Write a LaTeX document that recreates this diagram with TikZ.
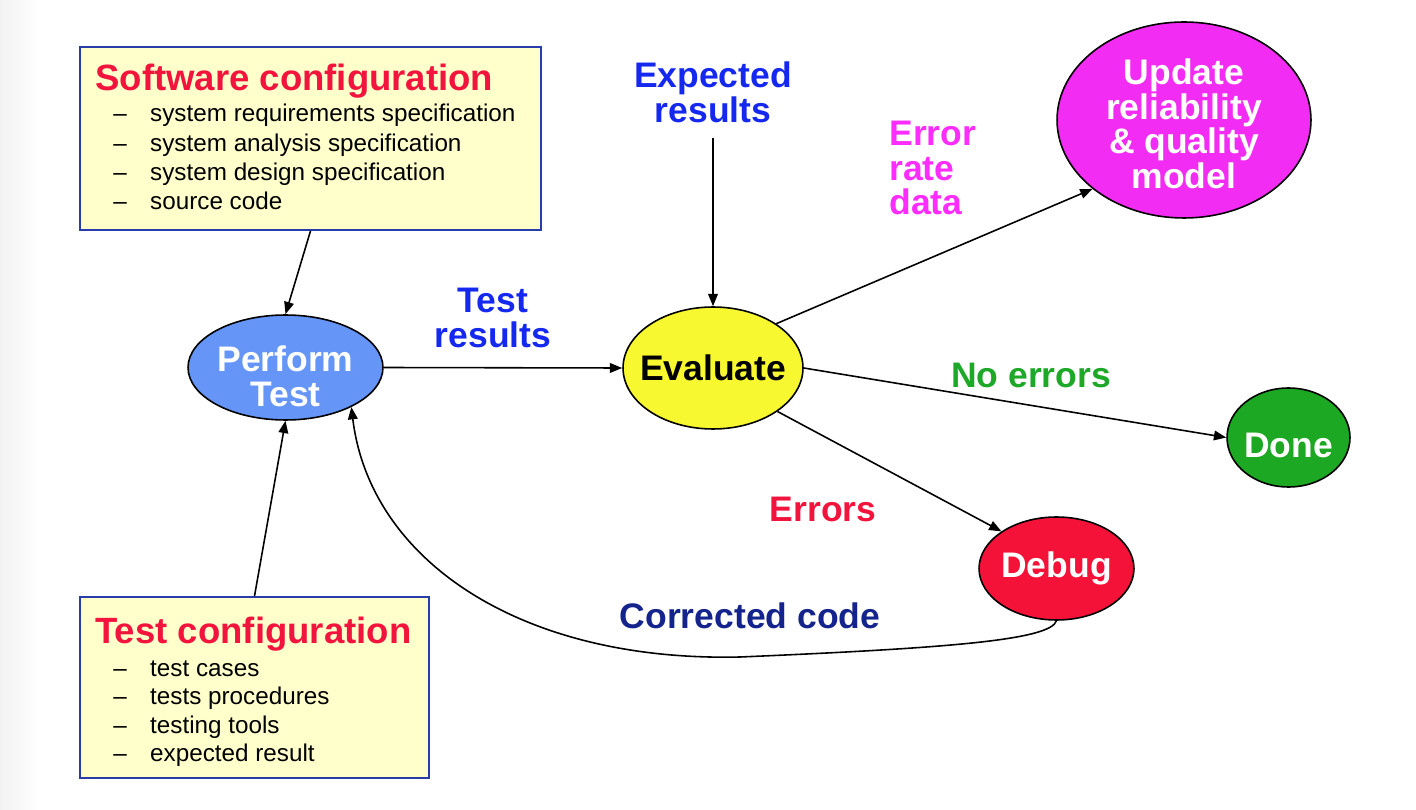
\documentclass[tikz,border=0pt]{standalone}
\usepackage{fontspec}
\setmainfont{Liberation Sans}
\usetikzlibrary{shapes.geometric,arrows.meta}
\definecolor{boxfill}{RGB}{255,255,204}
\definecolor{boxline}{RGB}{40,60,170}
\definecolor{tred}{RGB}{242,20,60}
\definecolor{perfblue}{RGB}{100,149,247}
\definecolor{evalyel}{RGB}{248,248,48}
\definecolor{updmag}{RGB}{243,44,243}
\definecolor{donegreen}{RGB}{28,168,34}
\definecolor{dbgred}{RGB}{245,18,56}
\definecolor{lblblue}{RGB}{20,40,240}
\definecolor{lblmag}{RGB}{255,44,255}
\definecolor{lblgreen}{RGB}{30,168,40}
\definecolor{lblnavy}{RGB}{20,36,140}
\newcommand\itm[1]{\hbox{\hbox to 21pt{\textendash\hss}#1}}
\newcommand\lift[1]{\rule{0pt}{#1}}
\begin{document}
\begin{tikzpicture}[x=0.02cm,y=-0.02cm,
 bigtxt/.style={font=\fontsize{20.2}{19.8}\selectfont\bfseries, align=center, inner sep=0pt},
 cfgbox/.style={draw=boxline, line width=1.1pt, fill=boxfill, rectangle, inner sep=0pt},
 proc/.style={ellipse, draw=black, line width=0.9pt, bigtxt, inner sep=-6pt, text=white},
 arr/.style={-{Triangle[length=7pt,width=5.5pt]}, line width=0.9pt, draw=black},
 cfgtitle/.style={anchor=base west, inner sep=0pt, text=tred, font=\fontsize{20.8}{20}\selectfont\bfseries},
 cfglist/.style={anchor=base west, inner sep=0pt, text=black, font=\fontsize{13.8}{16.6}\selectfont},
]
\useasboundingbox (0,0) rectangle (1416,810);
\shade[left color=black!5, right color=white] (0,0) rectangle (40,810);

% configuration boxes
\node[cfgbox, minimum width=9.22cm, minimum height=3.66cm] (sw) at (310.5,138.5) {};
\node[cfgtitle] (swt) at (95,91) {Software configuration};
\node[cfglist] (swl) at (113,122)
  {\vtop{\itm{system requirements specification}\itm{system analysis specification}\itm{system design specification}\itm{source code}}};

\node[cfgbox, minimum width=6.98cm, minimum height=3.62cm] (tc) at (254.5,687.5) {};
\node[cfgtitle] (tct) at (95,643) {Test configuration};
\node[cfglist, font=\fontsize{13.8}{16.3}\selectfont] (tcl) at (113,676)
  {\vtop{\itm{test cases}\itm{tests procedures}\itm{testing tools}\itm{expected result}}};

% process ellipses
\node[proc, fill=perfblue, minimum width=3.9cm, minimum height=2.1cm] (perf) at (285.5,367.5) {\lift{25pt}Perform\\Test};
\node[proc, fill=evalyel, text=black, minimum width=3.6cm, minimum height=2.44cm] (eval) at (713,368) {Evaluate};
\node[proc, fill=updmag, minimum width=5.08cm, minimum height=3.92cm] (upd) at (1184,120) {\lift{19pt}Update\\reliability\\\& quality\\model};
\node[proc, fill=donegreen, minimum width=2.46cm, minimum height=1.98cm] (done) at (1288.5,437.5) {\lift{23pt}Done};
\node[proc, fill=dbgred, minimum width=3.1cm, minimum height=2.06cm] (debug) at (1056.5,568.5) {Debug};

% labels
\node[bigtxt, text=lblblue] (exp) at (713,92) {Expected\\results};
\node[bigtxt, text=lblblue] (tr) at (493,318) {Test\\results};
\node[bigtxt, text=lblmag, align=left, anchor=west] (erd) at (889,168) {Error\\rate\\data};
\node[bigtxt, text=lblgreen] (noerr) at (1031,375) {No errors};
\node[bigtxt, text=tred] (errs) at (823,509) {Errors};
\node[bigtxt, text=lblnavy] (corr) at (750,616) {Corrected code};
\coordinate (expb) at (713,138);

% connectors
\draw[arr] (sw.south) -- (perf.north);
\draw[arr] (tc.north) -- (perf.south);
\draw[arr] (perf.east) -- (eval.west);
\draw[arr] (expb) -- (eval.north);
\draw[arr] (eval.35) -- (upd.217);
\draw[arr] (eval.east) -- (done.west);
\draw[arr] (eval.-34) -- (debug.146);
\draw[arr] (debug.south) .. controls (1050,640) and (950,648) .. (740,657)
  .. controls (520,662) and (370,560) .. (perf.-31);
\end{tikzpicture}
\end{document}
